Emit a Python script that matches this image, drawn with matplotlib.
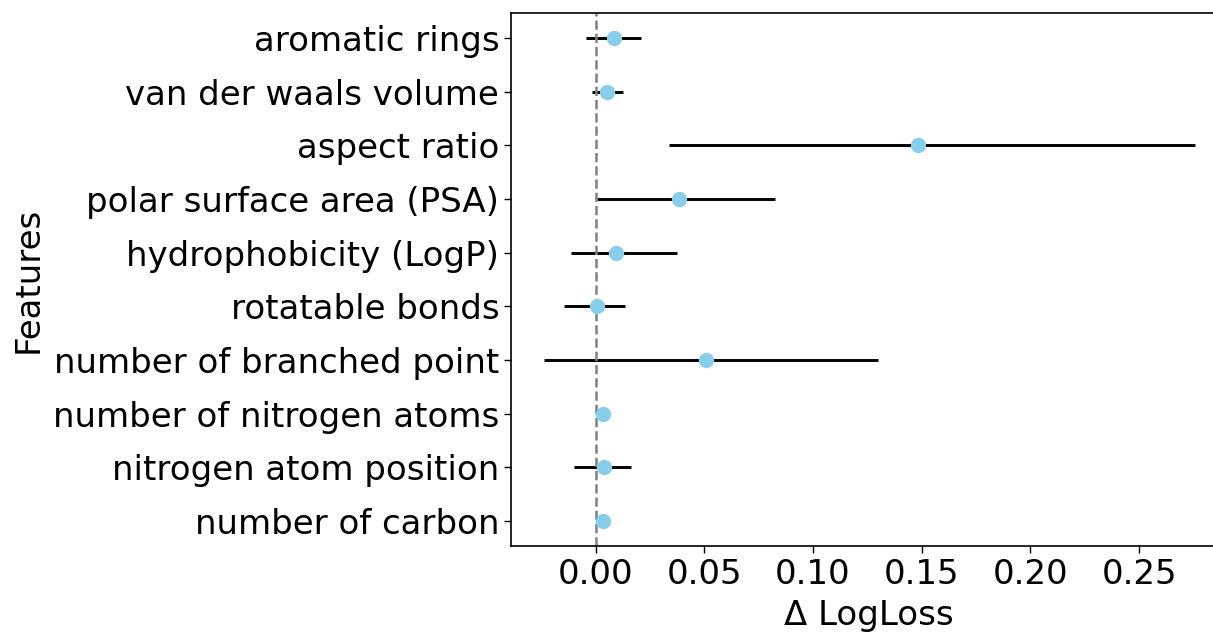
import matplotlib
matplotlib.use("Agg")
import matplotlib.pyplot as plt
import numpy as np

features = [
    "aromatic rings",
    "van der waals volume",
    "aspect ratio",
    "polar surface area (PSA)",
    "hydrophobicity (LogP)",
    "rotatable bonds",
    "number of branched point",
    "number of nitrogen atoms",
    "nitrogen atom position",
    "number of carbon",
]
delta_logloss = [0.0086, 0.0052, 0.1482, 0.0383, 0.0092, 0.0006, 0.0510, 0.0032, 0.0038, 0.0032]
ci_low = [-0.0046, -0.0017, 0.0337, 0.0007, -0.0114, -0.0147, -0.0239, 0.0032, -0.0100, 0.0032]
ci_high = [0.0207, 0.0124, 0.2755, 0.0824, 0.0374, 0.0136, 0.1297, 0.0032, 0.0164, 0.0032]
xticks = [0.00, 0.05, 0.10, 0.15, 0.20, 0.25]

vals = np.array(delta_logloss)
lo = vals - np.array(ci_low)
hi = np.array(ci_high) - vals
y = np.arange(len(features))

fig = plt.figure(figsize=(12.13, 6.33), dpi=100)
ax = fig.add_axes([0.4213, 0.1379, 0.5904, 0.8411])

ax.errorbar(vals, y, xerr=[lo, hi], fmt='o', color='skyblue', ecolor='black',
            elinewidth=2.1, markersize=10, capsize=0)
ax.axvline(0, color='gray', linestyle='--', linewidth=1.8)

ax.set_yticks(y)
ax.set_yticklabels(features)
ax.set_ylim(9.46, -0.46)
ax.set_xlim(-0.0389, 0.2905)
ax.set_xticks(xticks)
ax.set_xticklabels([f"{t:.2f}" for t in xticks])
ax.tick_params(labelsize=24.5, width=1, length=5)
ax.set_xlabel("Δ LogLoss", fontsize=24.5, labelpad=6)
ax.set_ylabel("Features", fontsize=24.5, labelpad=6)
for s in ax.spines.values():
    s.set_linewidth(1.2)
ax.spines['right'].set_visible(False)

fig.savefig("out.png", dpi=100)
